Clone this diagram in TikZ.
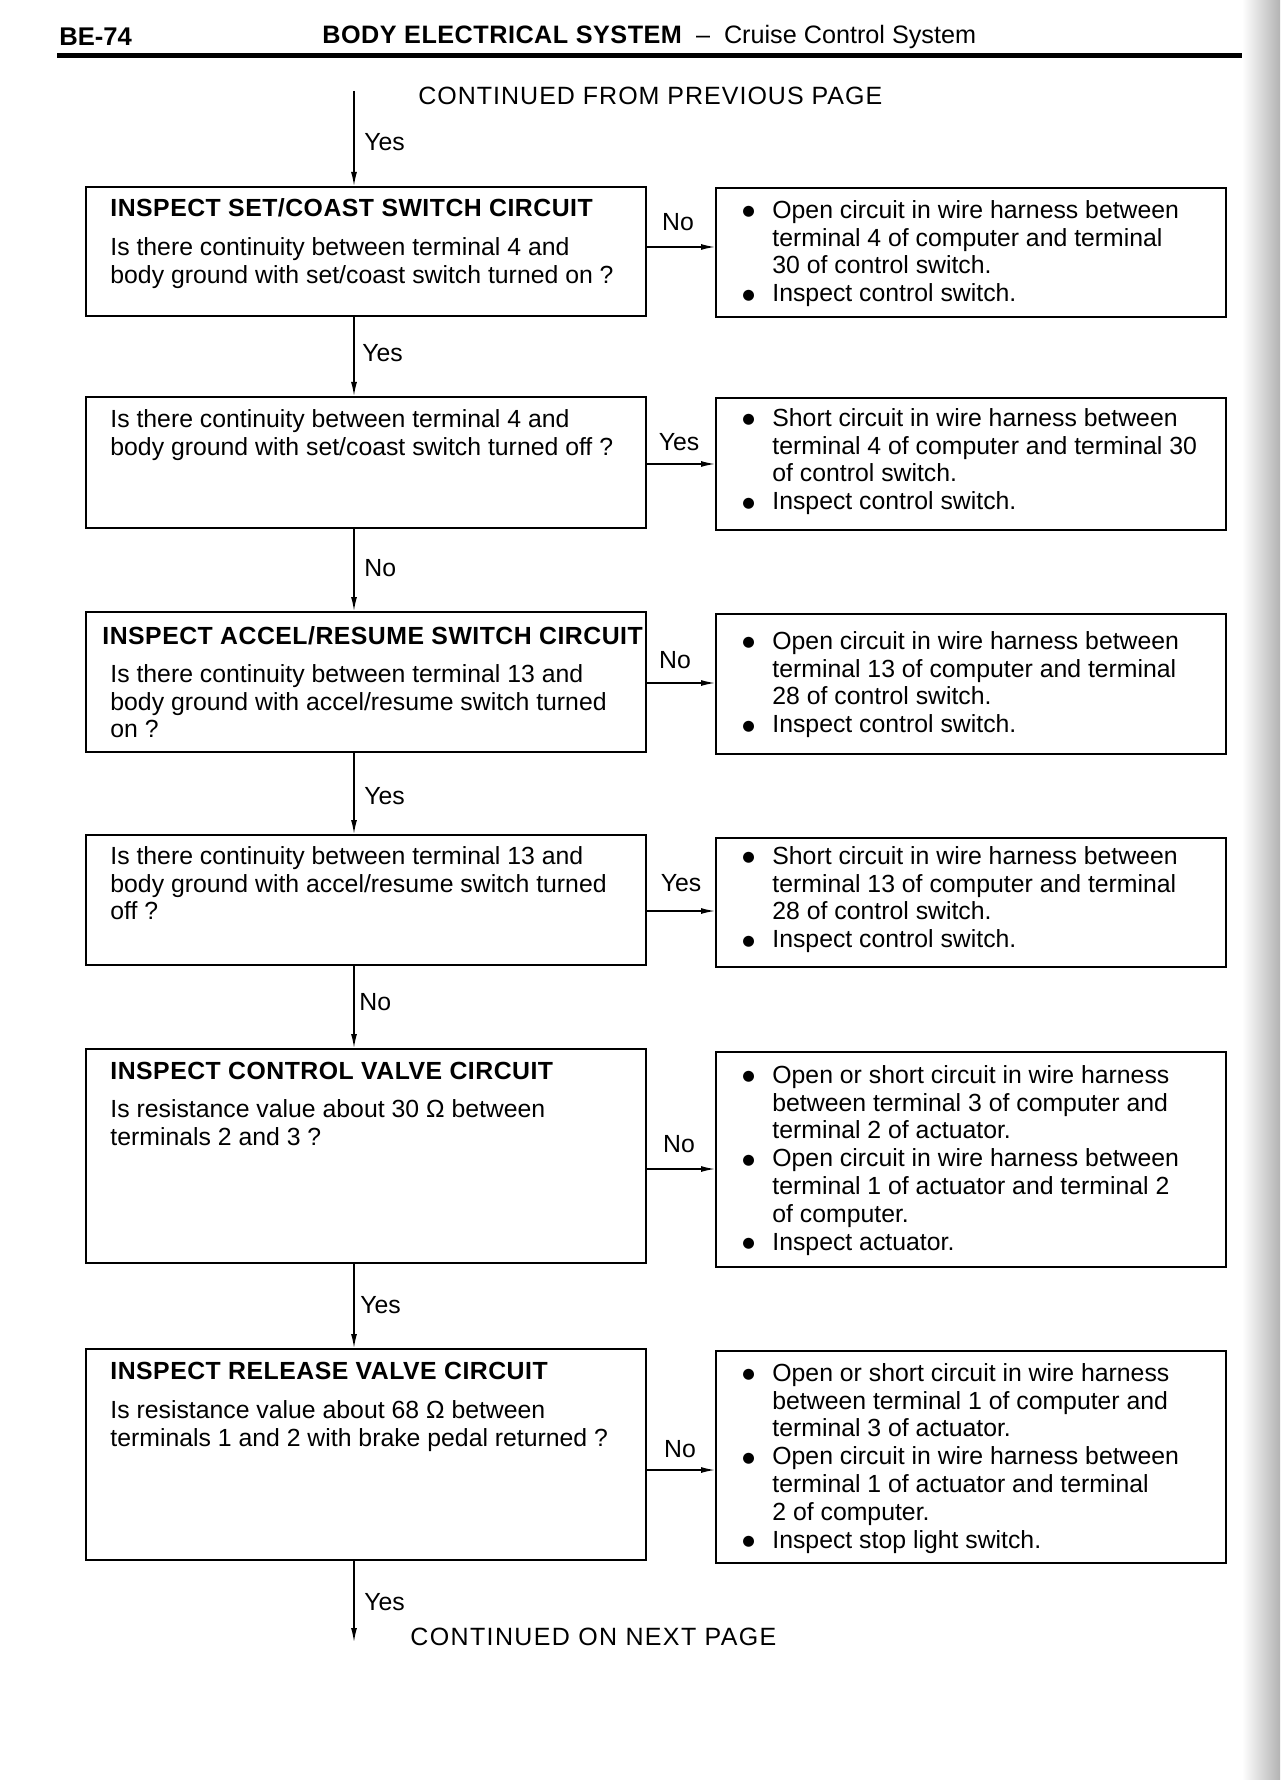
\documentclass[tikz,border=0pt]{standalone}
\usepackage{fontspec}
\setmainfont{Liberation Sans}
\newfontfamily\dotfont[Scale=0.58]{DejaVu Sans}
\usetikzlibrary{arrows.meta}
\newcommand{\blt}{\makebox[15pt][l]{\raisebox{1.2pt}{\dotfont ●}}}
\newcommand{\hind}{\hspace*{15pt}}
\newcommand{\ttl}[1]{{\bfseries\addfontfeature{LetterSpace=2}#1}}
\begin{document}
\begin{tikzpicture}[x=0.5pt, y=-0.5pt,
  lbox/.style={draw, line width=1pt, minimum width=280pt, inner sep=0pt},
  rbox/.style={draw, line width=1pt, minimum width=255pt, inner sep=0pt},
  txt/.style={anchor=north west, inner sep=0pt, align=left,
    font=\fontsize{12.4}{13.9}\selectfont},
  lbl/.style={inner sep=0pt, font=\fontsize{12.4}{13.9}\selectfont},
  arr/.style={line width=0.7pt, -{Latex[length=7pt,width=3pt]}}]
  \useasboundingbox (0,0) rectangle (1280,1780);
  % scanned page edge
  \shade[left color=white, right color=black!30] (1242,0) rectangle (1280,1780);
  % page heading
  \node[anchor=west, inner sep=0pt, font=\fontsize{12.8}{15}\selectfont\bfseries] (page) at (59,37) {BE-74};
  \node[anchor=west, inner sep=0pt, font=\fontsize{12.6}{15}\selectfont] (head) at (322,37)
    {{\bfseries\addfontfeature{LetterSpace=2}BODY ELECTRICAL SYSTEM}\ \ -- \ Cruise Control System};
  \draw[line width=2.5pt] (57,55.5) -- (1242,55.5);
  % start
  \coordinate (top) at (354,91);
  \node[anchor=west, inner sep=0pt, font=\fontsize{12.5}{14}\selectfont\addfontfeature{LetterSpace=4}] (from) at (418,96)
    {CONTINUED FROM PREVIOUS PAGE};
  % set/coast on
  \node[lbox, minimum height=64.5pt] (q1) at (366,251.5) {};
  \node[txt] (q1h) at (110,198) {\ttl{INSPECT SET/COAST SWITCH CIRCUIT}};
  \node[txt] (q1t) at (110,237) {Is there continuity between terminal 4 and\\body ground with set/coast switch turned on ?};
  \node[rbox, minimum height=64.5pt] (r1) at (971,252.5) {};
  \node[txt] (r1t) at (742,200) {\blt Open circuit in wire harness between\\\hind terminal 4 of computer and terminal\\\hind 30 of control switch.\\\blt Inspect control switch.};
  % set/coast off
  \node[lbox, minimum height=65.5pt] (q2) at (366,462.5) {};
  \node[txt] (q2t) at (110,409) {Is there continuity between terminal 4 and\\body ground with set/coast switch turned off ?};
  \node[rbox, minimum height=66pt] (r2) at (971,464) {};
  \node[txt] (r2t) at (742,408) {\blt Short circuit in wire harness between\\\hind terminal 4 of computer and terminal 30\\\hind of control switch.\\\blt Inspect control switch.};
  % accel/resume on
  \node[lbox, minimum height=70pt] (q3) at (366,682) {};
  \node[txt] (q3h) at (102,626) {\ttl{INSPECT ACCEL/RESUME SWITCH CIRCUIT}};
  \node[txt] (q3t) at (110,664) {Is there continuity between terminal 13 and\\body ground with accel/resume switch turned\\on ?};
  \node[rbox, minimum height=70pt] (r3) at (971,684) {};
  \node[txt] (r3t) at (742,631) {\blt Open circuit in wire harness between\\\hind terminal 13 of computer and terminal\\\hind 28 of control switch.\\\blt Inspect control switch.};
  % accel/resume off
  \node[lbox, minimum height=65pt] (q4) at (366,900) {};
  \node[txt] (q4t) at (110,846) {Is there continuity between terminal 13 and\\body ground with accel/resume switch turned\\off ?};
  \node[rbox, minimum height=64.5pt] (r4) at (971,902.5) {};
  \node[txt] (r4t) at (742,846) {\blt Short circuit in wire harness between\\\hind terminal 13 of computer and terminal\\\hind 28 of control switch.\\\blt Inspect control switch.};
  % control valve
  \node[lbox, minimum height=107pt] (q5) at (366,1156) {};
  \node[txt] (q5h) at (110,1062) {\ttl{INSPECT CONTROL VALVE CIRCUIT}};
  \node[txt] (q5t) at (110,1099) {Is resistance value about 30 Ω between\\terminals 2 and 3 ?};
  \node[rbox, minimum height=107.5pt] (r5) at (971,1159.5) {};
  \node[txt] (r5t) at (742,1065) {\blt Open or short circuit in wire harness\\\hind between terminal 3 of computer and\\\hind terminal 2 of actuator.\\\blt Open circuit in wire harness between\\\hind terminal 1 of actuator and terminal 2\\\hind of computer.\\\blt Inspect actuator.};
  % release valve
  \node[lbox, minimum height=105.5pt] (q6) at (366,1454.5) {};
  \node[txt] (q6h) at (110,1362) {\ttl{INSPECT RELEASE VALVE CIRCUIT}};
  \node[txt] (q6t) at (110,1400) {Is resistance value about 68 Ω between\\terminals 1 and 2 with brake pedal returned ?};
  \node[rbox, minimum height=106pt] (r6) at (971,1457) {};
  \node[txt] (r6t) at (742,1363) {\blt Open or short circuit in wire harness\\\hind between terminal 1 of computer and\\\hind terminal 3 of actuator.\\\blt Open circuit in wire harness between\\\hind terminal 1 of actuator and terminal\\\hind 2 of computer.\\\blt Inspect stop light switch.};
  % end
  \coordinate (bot) at (354,1642);
  \node[anchor=west, inner sep=0pt, font=\fontsize{12.5}{14}\selectfont\addfontfeature{LetterSpace=5.5}] (next) at (410,1637)
    {CONTINUED ON NEXT PAGE};
  % main line down
  \draw[arr] (top) -- (q1.north -| top);
  \draw[arr] (q1.south -| top) -- (q2.north -| top);
  \draw[arr] (q2.south -| top) -- (q3.north -| top);
  \draw[arr] (q3.south -| top) -- (q4.north -| top);
  \draw[arr] (q4.south -| top) -- (q5.north -| top);
  \draw[arr] (q5.south -| top) -- (q6.north -| top);
  \draw[arr] (q6.south -| top) -- (bot);
  \node[lbl, anchor=west] (a0) at (364,142) {Yes};
  \node[lbl, anchor=west] (a1) at (362,353) {Yes};
  \node[lbl, anchor=west] (a2) at (364,568) {No};
  \node[lbl, anchor=west] (a3) at (364,796) {Yes};
  \node[lbl, anchor=west] (a4) at (359,1002) {No};
  \node[lbl, anchor=west] (a5) at (360,1305) {Yes};
  \node[lbl, anchor=west] (a6) at (364,1602) {Yes};
  % side branches
  \draw[arr] ([yshift=2.25pt]q1.east) -- ([yshift=2.25pt]q1.east -| r1.west);
  \draw[arr] ([yshift=-0.75pt]q2.east) -- ([yshift=-0.75pt]q2.east -| r2.west);
  \draw[arr] ([yshift=-0.5pt]q3.east) -- ([yshift=-0.5pt]q3.east -| r3.west);
  \draw[arr] ([yshift=-5.5pt]q4.east) -- ([yshift=-5.5pt]q4.east -| r4.west);
  \draw[arr] ([yshift=-6.5pt]q5.east) -- ([yshift=-6.5pt]q5.east -| r5.west);
  \draw[arr] ([yshift=-7.75pt]q6.east) -- ([yshift=-7.75pt]q6.east -| r6.west);
  \node[lbl] (b1) at (678,222) {No};
  \node[lbl] (b2) at (679,442) {Yes};
  \node[lbl] (b3) at (675,660) {No};
  \node[lbl] (b4) at (681,883) {Yes};
  \node[lbl] (b5) at (679,1144) {No};
  \node[lbl] (b6) at (680,1449) {No};
\end{tikzpicture}
\end{document}
